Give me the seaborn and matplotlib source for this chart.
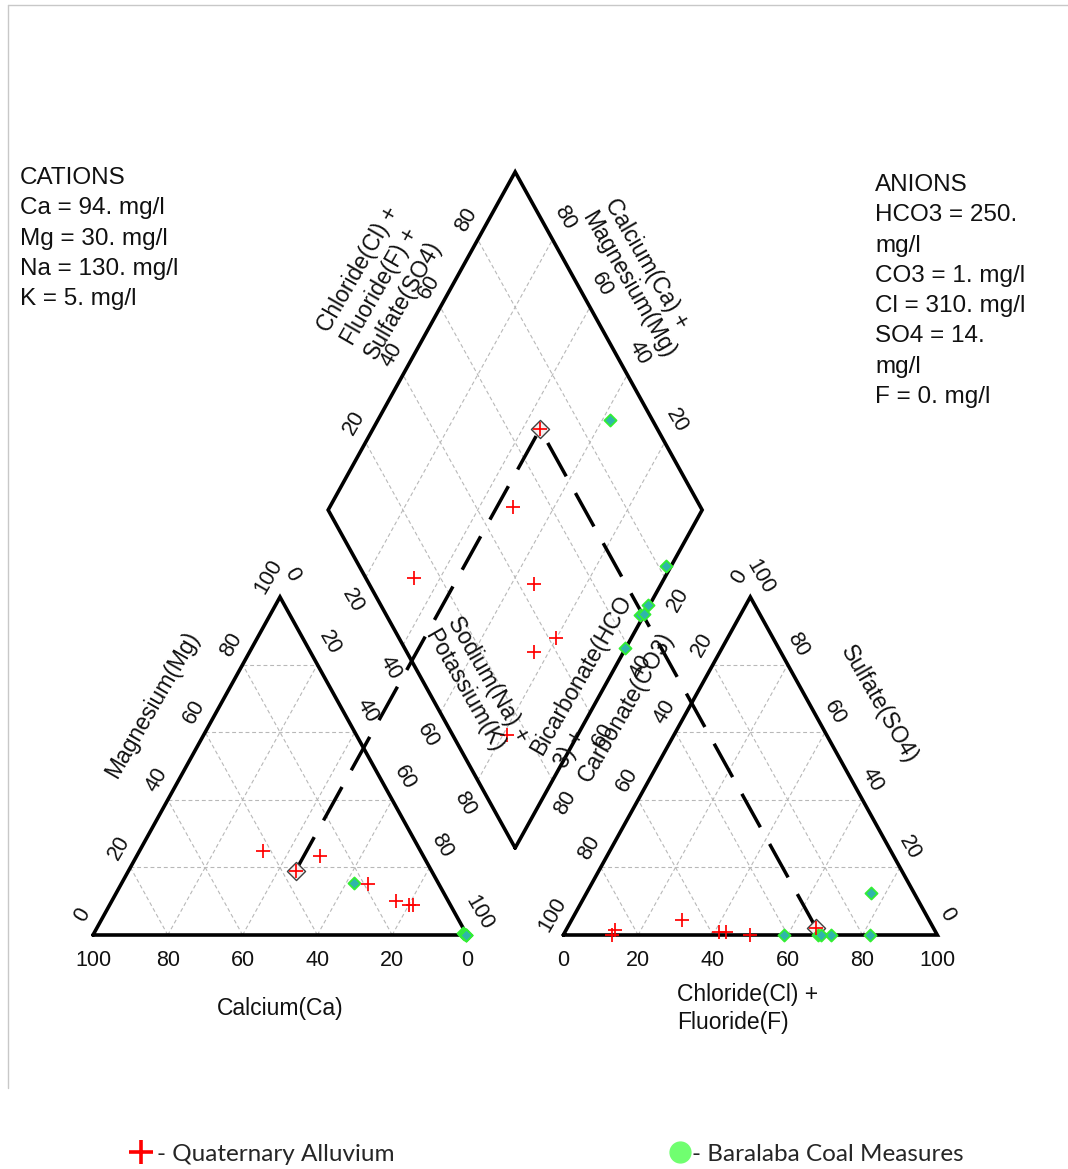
import numpy as np
import pandas as pd
import matplotlib
matplotlib.use("Agg")
import matplotlib.pyplot as plt
from matplotlib.lines import Line2D
import seaborn as sns

# ---------------------------------------------------------------------------
# Water chemistry, percent of total meq/l (Na+K and Cl+F are the remainders)
# ---------------------------------------------------------------------------
alluvium_ca = [42.0, 27.5, 19.0, 11.0, 14.0, 10.0]
alluvium_mg = [25.0, 23.5, 15.0, 9.0, 10.0, 9.0]
alluvium_hco3 = [87.0, 50.0, 56.0, 58.0, 66.0, 85.5]
alluvium_so4 = [0.0, 0.0, 1.0, 1.0, 4.5, 1.5]

coal_ca = [22.5, 0.8, 0.2, 0.6, 0.1, 0.1]
coal_mg = [15.5, 0.5, 0.1, 0.4, 0.1, 0.1]
coal_hco3 = [11.5, 18.0, 28.5, 32.0, 31.0, 41.0]
coal_so4 = [12.5, 0.0, 0.0, 0.0, 0.0, 0.0]

# Selected alluvium sample (mg/l) with equivalent weights (mg/meq)
cation_names = ["Ca", "Mg", "Na", "K"]
cation_mgl = [94, 30, 130, 5]
cation_eqw = [20.04, 12.153, 22.99, 39.098]
anion_names = ["HCO3", "CO3", "Cl", "SO4", "F"]
anion_mgl = [250, 1, 310, 14, 0]
anion_eqw = [61.017, 30.004, 35.453, 48.03, 18.998]

tick_values = [0, 20, 40, 60, 80, 100]
inner_ticks = [20, 40, 60, 80]
grid_levels = [0.2, 0.4, 0.6, 0.8]

# ---------------------------------------------------------------------------
# Piper geometry (unit-side triangles, diamond in between)
# ---------------------------------------------------------------------------
H = np.sqrt(3) / 2
GAP = 0.2575
B = np.array([1 + GAP / 2, GAP * H])          # bottom corner of the diamond
E1 = np.array([-0.5, H])                       # towards Ca+Mg
E2 = np.array([0.5, H])                        # towards Cl+SO4

FIG_W, FIG_H = 1068, 1169
X0_PX, Y0_PX = 93.0, 935.0
SX, SY = 374.0, 338.0 / H
PT = 0.72                                      # points per pixel at 100 dpi


def cation_xy(ca, mg):
    nak = 1 - ca - mg
    return np.array([nak + 0.5 * mg, H * mg])


def anion_xy(hco3, so4):
    cl = 1 - hco3 - so4
    return np.array([1 + GAP + cl + 0.5 * so4, H * so4])


def diamond_xy(camg, clso4):
    return B + camg * E1 + clso4 * E2


# selected sample in percent meq
c_meq = np.array(cation_mgl) / np.array(cation_eqw)
a_meq = np.array(anion_mgl) / np.array(anion_eqw)
sel_ca, sel_mg = c_meq[0] / c_meq.sum(), c_meq[1] / c_meq.sum()
sel_hco3 = (a_meq[0] + a_meq[1]) / a_meq.sum()
sel_so4 = a_meq[3] / a_meq.sum()

groups = [
    ("Quaternary Alluvium",
     [c / 100 for c in alluvium_ca] + [sel_ca],
     [m / 100 for m in alluvium_mg] + [sel_mg],
     [h / 100 for h in alluvium_hco3] + [sel_hco3],
     [s / 100 for s in alluvium_so4] + [sel_so4]),
    ("Baralaba Coal Measures",
     [c / 100 for c in coal_ca], [m / 100 for m in coal_mg],
     [h / 100 for h in coal_hco3], [s / 100 for s in coal_so4]),
]

rows = []
for name, ca, mg, hco3, so4 in groups:
    for a, b, c, d in zip(ca, mg, hco3, so4):
        for panel, xy in (("cation", cation_xy(a, b)),
                          ("anion", anion_xy(c, d)),
                          ("diamond", diamond_xy(a + b, 1 - c))):
            rows.append({"unit": name, "panel": panel, "x": xy[0], "y": xy[1]})
df = pd.DataFrame(rows)

sel_cat = cation_xy(sel_ca, sel_mg)
sel_an = anion_xy(sel_hco3, sel_so4)
sel_dia = diamond_xy(sel_ca + sel_mg, 1 - sel_hco3)

# ---------------------------------------------------------------------------
sns.set_theme(style="white")
plt.rcParams["font.family"] = ["Liberation Sans", "DejaVu Sans"]

fig = plt.figure(figsize=(FIG_W / 100, FIG_H / 100), dpi=100)
fig.patch.set_facecolor("white")
ax = fig.add_axes([0, 0, 1, 1])

grid_kw = dict(color="#b8b8b8", lw=0.8, dashes=(3.5, 2.5), zorder=1)
edge_kw = dict(color="black", lw=2.6, solid_joinstyle="miter", zorder=2)

cat_v = [np.array([0.0, 0.0]), np.array([1.0, 0.0]), np.array([0.5, H])]
an_v = [np.array([1 + GAP, 0.0]), np.array([2 + GAP, 0.0]), np.array([1.5 + GAP, H])]
for V in (cat_v, an_v):
    for k in grid_levels:
        for i in range(3):
            j, l = [m for m in range(3) if m != i]
            p = V[i] * k + V[j] * (1 - k)
            q = V[i] * k + V[l] * (1 - k)
            ax.plot([p[0], q[0]], [p[1], q[1]], **grid_kw)
    poly = np.array(V + [V[0]])
    ax.plot(poly[:, 0], poly[:, 1], **edge_kw)

for k in grid_levels:
    for s, t in ((E1, E2), (E2, E1)):
        p = B + k * s
        q = p + t
        ax.plot([p[0], q[0]], [p[1], q[1]], **grid_kw)
dia = np.array([B, B + E1, B + E1 + E2, B + E2, B])
ax.plot(dia[:, 0], dia[:, 1], **edge_kw)

# projection of the selected sample into the diamond
for start in (sel_cat, sel_an):
    ax.plot([start[0], sel_dia[0]], [start[1], sel_dia[1]], color="black",
            lw=2.5, dashes=(11, 5.5), zorder=3)

# highlight frames around the selected sample
sel_df = pd.DataFrame({"x": [sel_cat[0], sel_an[0], sel_dia[0]],
                       "y": [sel_cat[1], sel_an[1], sel_dia[1]]})
sns.scatterplot(data=sel_df, x="x", y="y", marker="D", s=85,
                color="#f6f0f0", edgecolor="#404040", linewidth=1.0,
                ax=ax, zorder=4)

sns.scatterplot(data=df[df["unit"] == "Baralaba Coal Measures"], x="x", y="y",
                marker="D", s=38, color="#2fb5aa", edgecolor="#33ee33",
                linewidth=1.3, ax=ax, zorder=5)
sns.scatterplot(data=df[df["unit"] == "Quaternary Alluvium"], x="x", y="y",
                marker="+", s=90, color="red", linewidth=1.25, ax=ax, zorder=6)

# ---------------------------------------------------------------------------
# tick labels and titles
# ---------------------------------------------------------------------------
TICK_FS = 15.5
TITLE_FS = 16.5


def put(xy, text, dx, dy, rot=0, fs=TICK_FS, ha="center", va="center"):
    ax.annotate(text, xy=(xy[0], xy[1]), xytext=(dx * PT, -dy * PT),
                textcoords="offset points", rotation=rot,
                rotation_mode="anchor", ha=ha, va=va, fontsize=fs,
                color="#111111", zorder=7)


for t in tick_values:
    f = t / 100
    put(cation_xy(f, 0), str(t), 0, 25)                  # Ca
    put(cation_xy(1 - f, f), str(t), -11, -20, 60)       # Mg
    put(cation_xy(0, 1 - f), str(t), 12, -22, -60)      # Na+K
    put(anion_xy(1 - f, 0), str(t), 0, 25)               # Cl+F
    put(anion_xy(f, 1 - f), str(t), -11, -20, 60)        # HCO3+CO3
    put(anion_xy(0, f), str(t), 10, -20, -60)            # SO4
for t in inner_ticks:
    f = t / 100
    put(diamond_xy(1, f), str(t), -11, -20, 60)
    put(diamond_xy(f, 1), str(t), 12, -22, -60)
    put(diamond_xy(1 - f, 0), str(t), -13, 23, -60)
    put(diamond_xy(0, 1 - f), str(t), 13, 22, 60)

put((0.5, 0), "Calcium(Ca)", 0, 74, fs=TITLE_FS)
put((0.5, H), "Magnesium(Mg)", -128, 108, 60, fs=TITLE_FS)
put((1.5 + GAP, 0), "Chloride(Cl) +", -73, 60, ha="left", fs=TITLE_FS)
put((1.5 + GAP, 0), "Fluoride(F)", -73, 87, ha="left", fs=TITLE_FS)
put((1.5 + GAP, H), "Sulfate(SO4)", 129, 107, -60, fs=TITLE_FS)


def block(anchor, lines, dx, dy, rot):
    step = np.array([23.4, 13.5]) if rot > 0 else np.array([-23.4, 13.5])
    for i, s in enumerate(lines):
        put(anchor, s, dx + i * step[0], dy + i * step[1], rot, ha="left",
            fs=TITLE_FS)


block(B + E1, ["Chloride(Cl) +", "Fluoride(F) +", "Sulfate(SO4)"], -5, -180, 60)
block(B + E1 + E2, ["Calcium(Ca) +", "Magnesium(Mg)"], 95, 28, -60)
block(B, ["Sodium(Na) +", "Potassium(K)"], -62, -230, -60)
block(B, ["Bicarbonate(HCO", "3) +", "Carbonate(CO3)"], 21.5, -95, 60)

ax.set_xlim(-X0_PX / SX, (FIG_W - X0_PX) / SX)
ax.set_ylim((Y0_PX - FIG_H) / SY, Y0_PX / SY)
ax.axis("off")

# ---------------------------------------------------------------------------
# concentration panels
# ---------------------------------------------------------------------------
BLOCK_FS = 17.5
renderer = fig.canvas.get_renderer()


def wrap(text, max_em):
    max_px = max_em * BLOCK_FS / PT
    out, cur = [], ""
    for w in text.split(" "):
        trial = w if not cur else cur + " " + w
        tmp = fig.text(0, 0, trial, fontsize=BLOCK_FS)
        width = tmp.get_window_extent(renderer).width
        tmp.remove()
        if width > max_px and cur:
            out.append(cur)
            cur = w
        else:
            cur = trial
    out.append(cur)
    return out


def panel(title, names, values, x_px, y_px, max_em):
    lines = [title]
    for n, v in zip(names, values):
        lines += wrap(f"{n} = {v}. mg/l", max_em)
    for i, s in enumerate(lines):
        fig.text(x_px / FIG_W, 1 - (y_px + i * 30.3) / FIG_H, s,
                 fontsize=BLOCK_FS, ha="left", va="center", color="#111111")


panel("CATIONS", cation_names, cation_mgl, 20, 178, 9.0)
panel("ANIONS", anion_names, anion_mgl, 875, 185, 6.45)

# ---------------------------------------------------------------------------
# legend along the bottom
# ---------------------------------------------------------------------------
LEG_FS = 17.5
leg_font = {"family": ["Lato", "DejaVu Sans"], "size": LEG_FS}
em_px = LEG_FS / PT
leg_y = 1 - 1154 / FIG_H
h_red = Line2D([], [], ls="none", marker="+", ms=17, mew=2.6, color="red")
h_green = Line2D([], [], ls="none", marker="o", ms=15, color="#70ff70",
                 markeredgecolor="#70ff70")
fig.legend(handles=[h_red], labels=["- Quaternary Alluvium"], loc="center left",
           bbox_to_anchor=((141 - em_px / 2) / FIG_W, leg_y), frameon=False,
           handlelength=1.0, handletextpad=(157 - 141 - em_px / 2) / em_px,
           borderpad=0, borderaxespad=0, prop=leg_font)
fig.legend(handles=[h_green], labels=["- Baralaba Coal Measures"], loc="center left",
           bbox_to_anchor=((680 - em_px / 2) / FIG_W, leg_y), frameon=False,
           handlelength=1.0, handletextpad=(692 - 680 - em_px / 2) / em_px,
           borderpad=0, borderaxespad=0, prop=leg_font)

# thin page frame
fig.add_artist(Line2D([8 / FIG_W, 1], [1 - 5 / FIG_H] * 2,
                      transform=fig.transFigure, color="#c8c8c8", lw=1))
fig.add_artist(Line2D([8 / FIG_W] * 2, [1 - 5 / FIG_H, 1 - 1088 / FIG_H],
                      transform=fig.transFigure, color="#c8c8c8", lw=1))

fig.savefig("out.png", dpi=100, facecolor="white")
